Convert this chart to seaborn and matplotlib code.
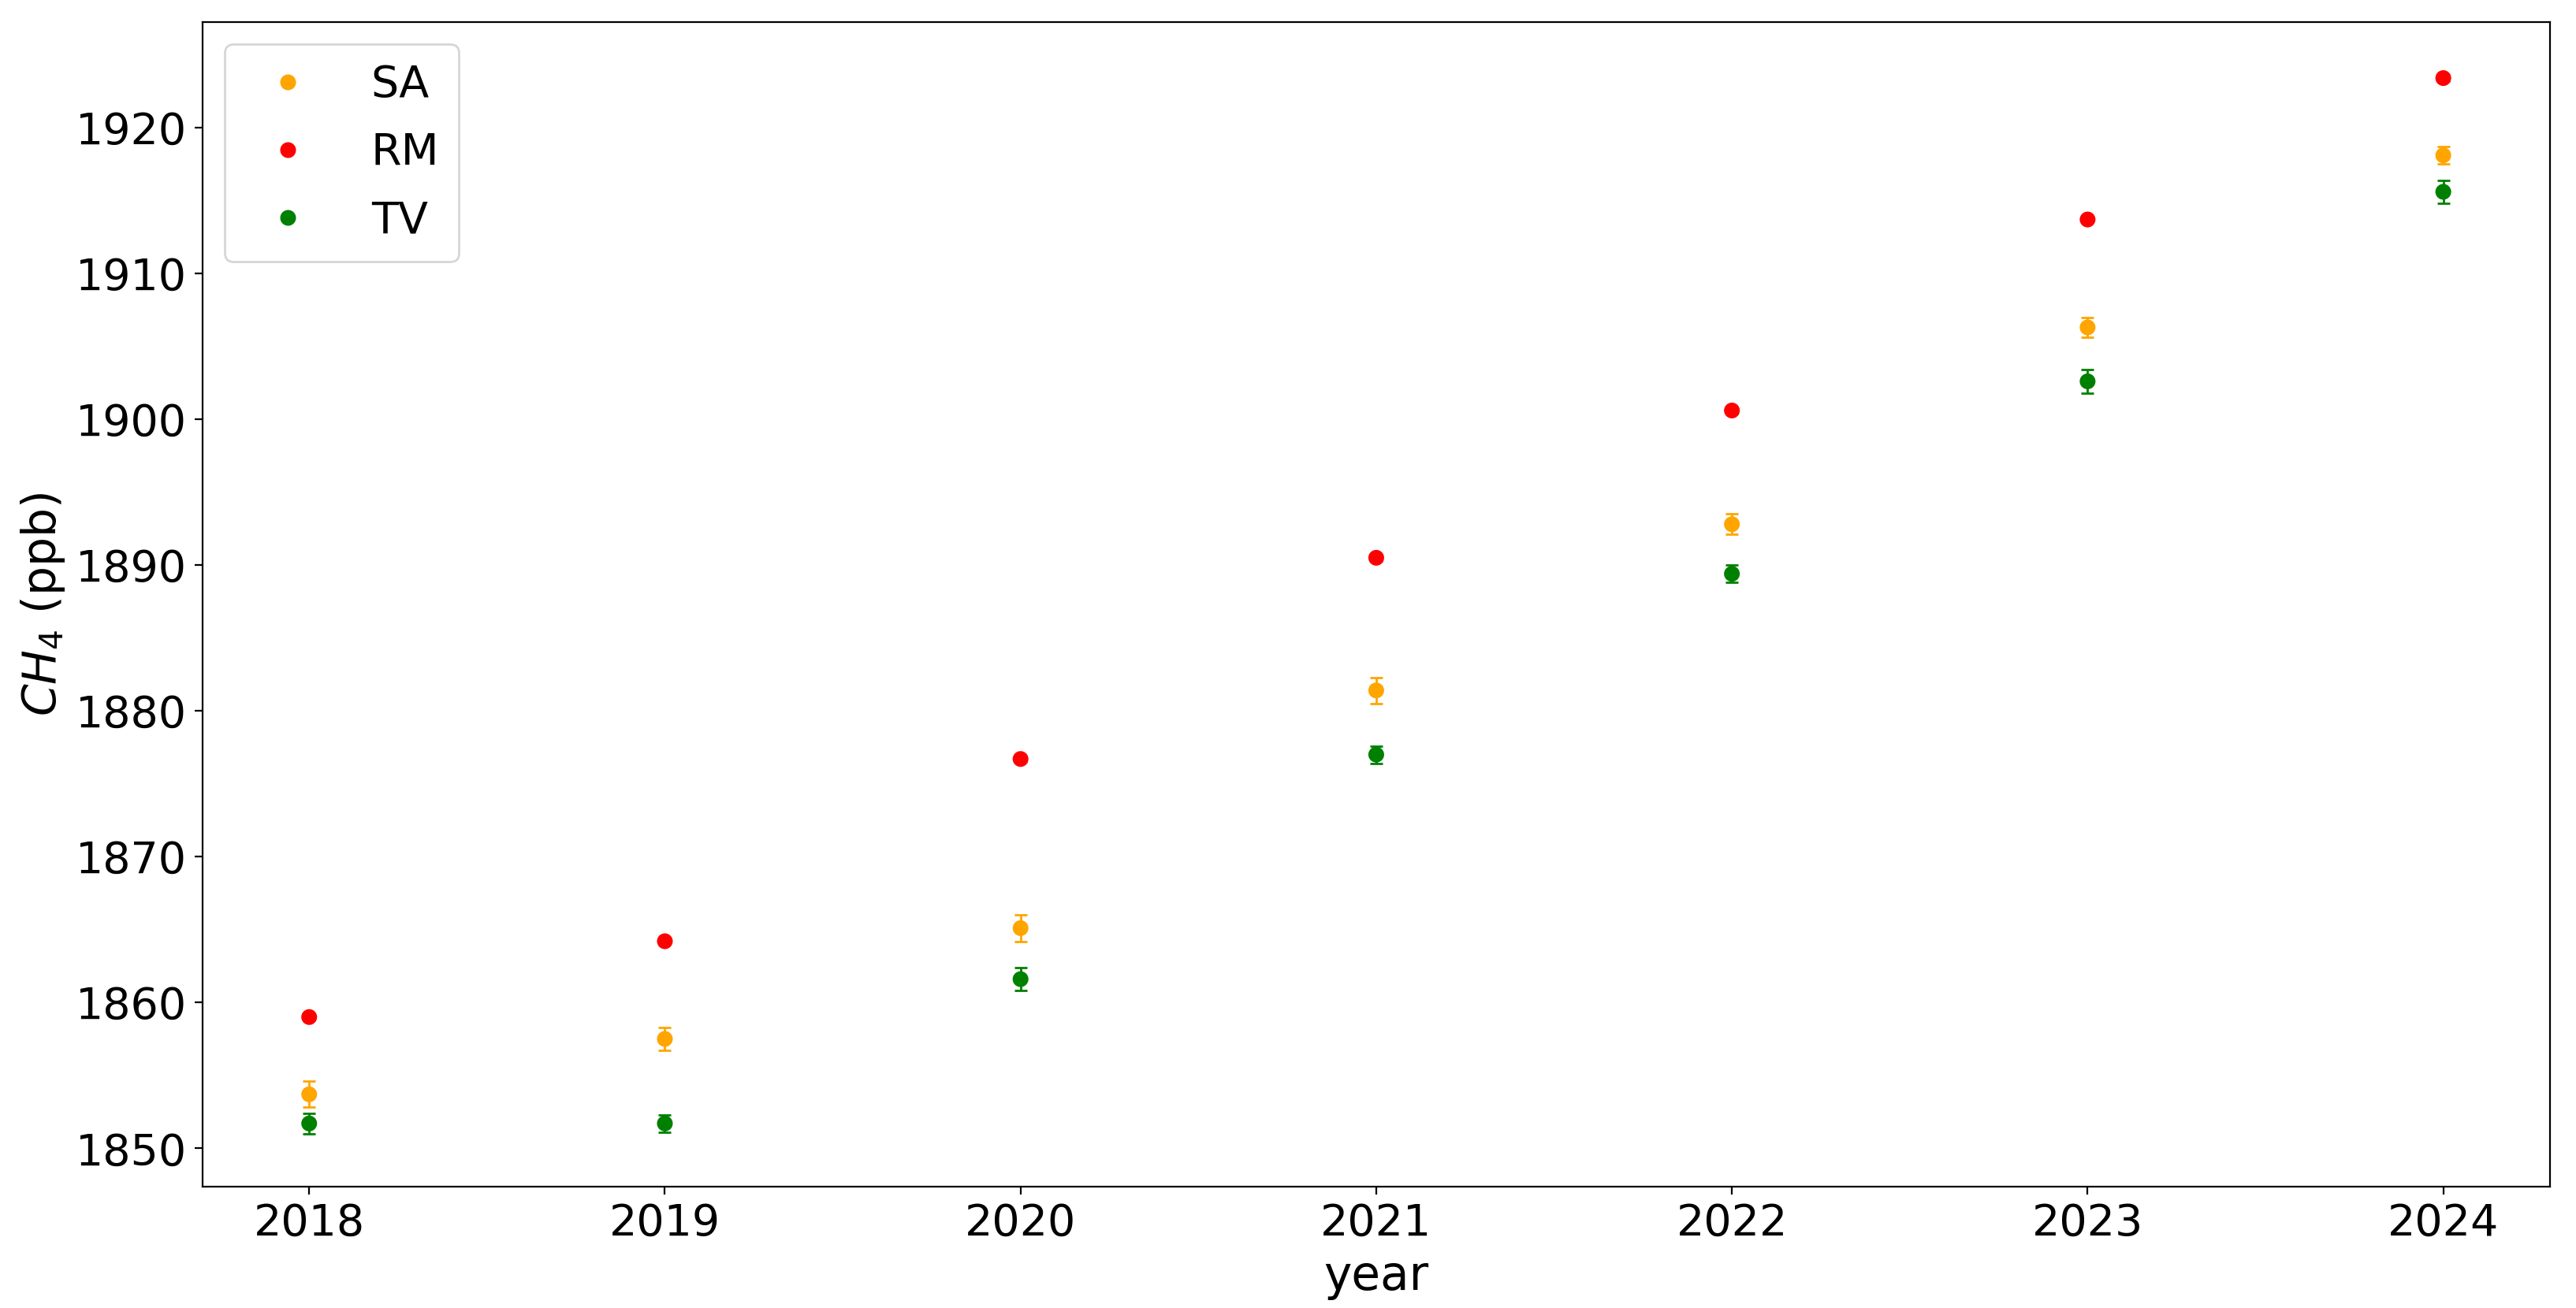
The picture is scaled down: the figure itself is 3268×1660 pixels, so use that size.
import matplotlib
matplotlib.use("Agg")
import matplotlib.pyplot as plt
import seaborn as sns
import pandas as pd

years = [2018, 2019, 2020, 2021, 2022, 2023, 2024]
sites = ["SA", "RM", "TV"]
sa_values = [1853.7, 1857.5, 1865.1, 1881.4, 1892.8, 1906.3, 1918.1]
sa_errors = [0.9, 0.8, 0.9, 0.9, 0.7, 0.7, 0.6]
rm_values = [1859.0, 1864.2, 1876.7, 1890.5, 1900.6, 1913.7, 1923.4]
rm_errors = [0.2, 0.2, 0.2, 0.2, 0.2, 0.2, 0.2]
tv_values = [1851.7, 1851.7, 1861.6, 1877.0, 1889.4, 1902.6, 1915.6]
tv_errors = [0.7, 0.6, 0.8, 0.6, 0.6, 0.8, 0.8]
colors = {"SA": "orange", "RM": "red", "TV": "green"}

values = {"SA": sa_values, "RM": rm_values, "TV": tv_values}
errors = {"SA": sa_errors, "RM": rm_errors, "TV": tv_errors}
rows = []
for s in sites:
    for y, v, e in zip(years, values[s], errors[s]):
        rows.append({"year": y, "ch4": v, "err": e, "site": s})
df = pd.DataFrame(rows)

fig = plt.figure(figsize=(16.34, 8.30), dpi=200)
ax = fig.add_axes([0.0786, 0.0928, 0.9113, 0.8902])

for s in sites:
    d = df[df["site"] == s]
    ax.errorbar(d["year"], d["ch4"], yerr=d["err"], fmt="none",
                ecolor=colors[s], elinewidth=1.0, capsize=3, capthick=1.0, zorder=1)

sns.scatterplot(data=df, x="year", y="ch4", hue="site", hue_order=sites,
                palette=colors, s=52, linewidth=0, ax=ax, zorder=2)

ax.set_xticks(years)
ax.tick_params(axis="both", labelsize=20)
ax.set_xlabel("year", fontsize=21.5)
ax.set_ylabel("$CH_4$ (ppb)", fontsize=21)
leg = ax.legend(loc="upper left", fontsize=20, title=None, borderpad=0.45,
                labelspacing=0.58, handletextpad=0.9)

fig.savefig("out.png", dpi=200)
